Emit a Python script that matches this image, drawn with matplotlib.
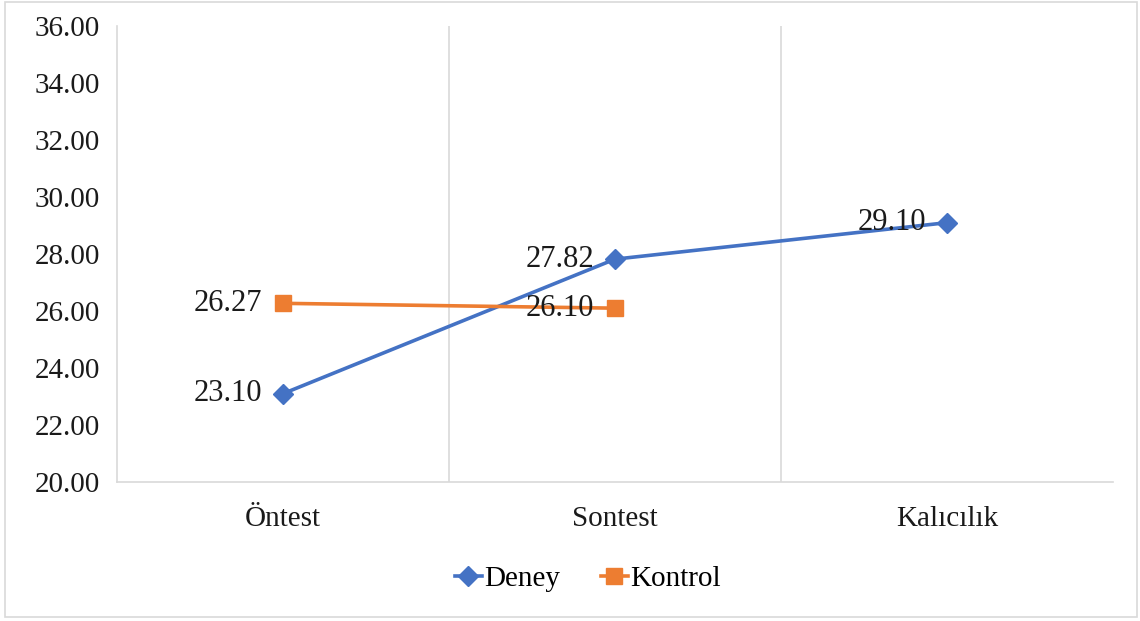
import matplotlib
matplotlib.use("Agg")
import matplotlib.pyplot as plt
from matplotlib.patches import Rectangle

categories = ["Öntest", "Sontest", "Kalıcılık"]
deney = [23.10, 27.82, 29.10]
kontrol = [26.27, 26.10]

plt.rcParams["font.family"] = ["Liberation Serif", "DejaVu Serif"]

fig = plt.figure(figsize=(11.4, 6.21), dpi=100)
ax = fig.add_axes([0.1026, 0.2238, 0.8737, 0.7343])

x_d = list(range(len(deney)))
x_k = list(range(len(kontrol)))

ax.plot(x_d, deney, color="#4472C4", lw=2.6, marker="D", ms=10,
        markeredgecolor="#4472C4", label="Deney", zorder=3)
ax.plot(x_k, kontrol, color="#ED7D31", lw=2.6, marker="s", ms=12,
        markeredgecolor="#ED7D31", label="Kontrol", zorder=3)

for xs, ys in ((x_d, deney), (x_k, kontrol)):
    for xv, yv in zip(xs, ys):
        ax.annotate(f"{yv:.2f}", (xv, yv), xytext=(-15, 0),
                    textcoords="offset points", ha="right", va="center",
                    fontsize=22, color="#1a1a1a", zorder=4)

ax.set_xlim(-0.5, 2.5)
ax.set_ylim(20, 36)
ax.set_yticks(range(20, 37, 2))
ax.set_yticklabels([f"{v:.2f}" for v in range(20, 37, 2)])
ax.set_xticks(x_d)
ax.set_xticklabels(categories)

# vertical gridlines between categories
for b in (0.5, 1.5):
    ax.axvline(b, color="#D9D9D9", lw=1.2, zorder=1)

for side in ("top", "right"):
    ax.spines[side].set_visible(False)
ax.spines["left"].set_color("#D9D9D9")
ax.spines["bottom"].set_color("#D9D9D9")
ax.spines["left"].set_linewidth(1.2)
ax.spines["bottom"].set_linewidth(1.2)

ax.tick_params(axis="both", length=0, labelsize=21, colors="#1a1a1a")
ax.tick_params(axis="y", pad=12)
ax.tick_params(axis="x", pad=17)

fig.legend(loc="center", bbox_to_anchor=(0.516, 0.068), ncol=2, frameon=False,
           fontsize=21, handlelength=0.9, handletextpad=0.1, columnspacing=1.4)

fig.patches.append(Rectangle((0.004, 0.006), 0.993, 0.99, transform=fig.transFigure,
                             fill=False, edgecolor="#D9D9D9", lw=1.2))

fig.savefig("out.png", dpi=100)
